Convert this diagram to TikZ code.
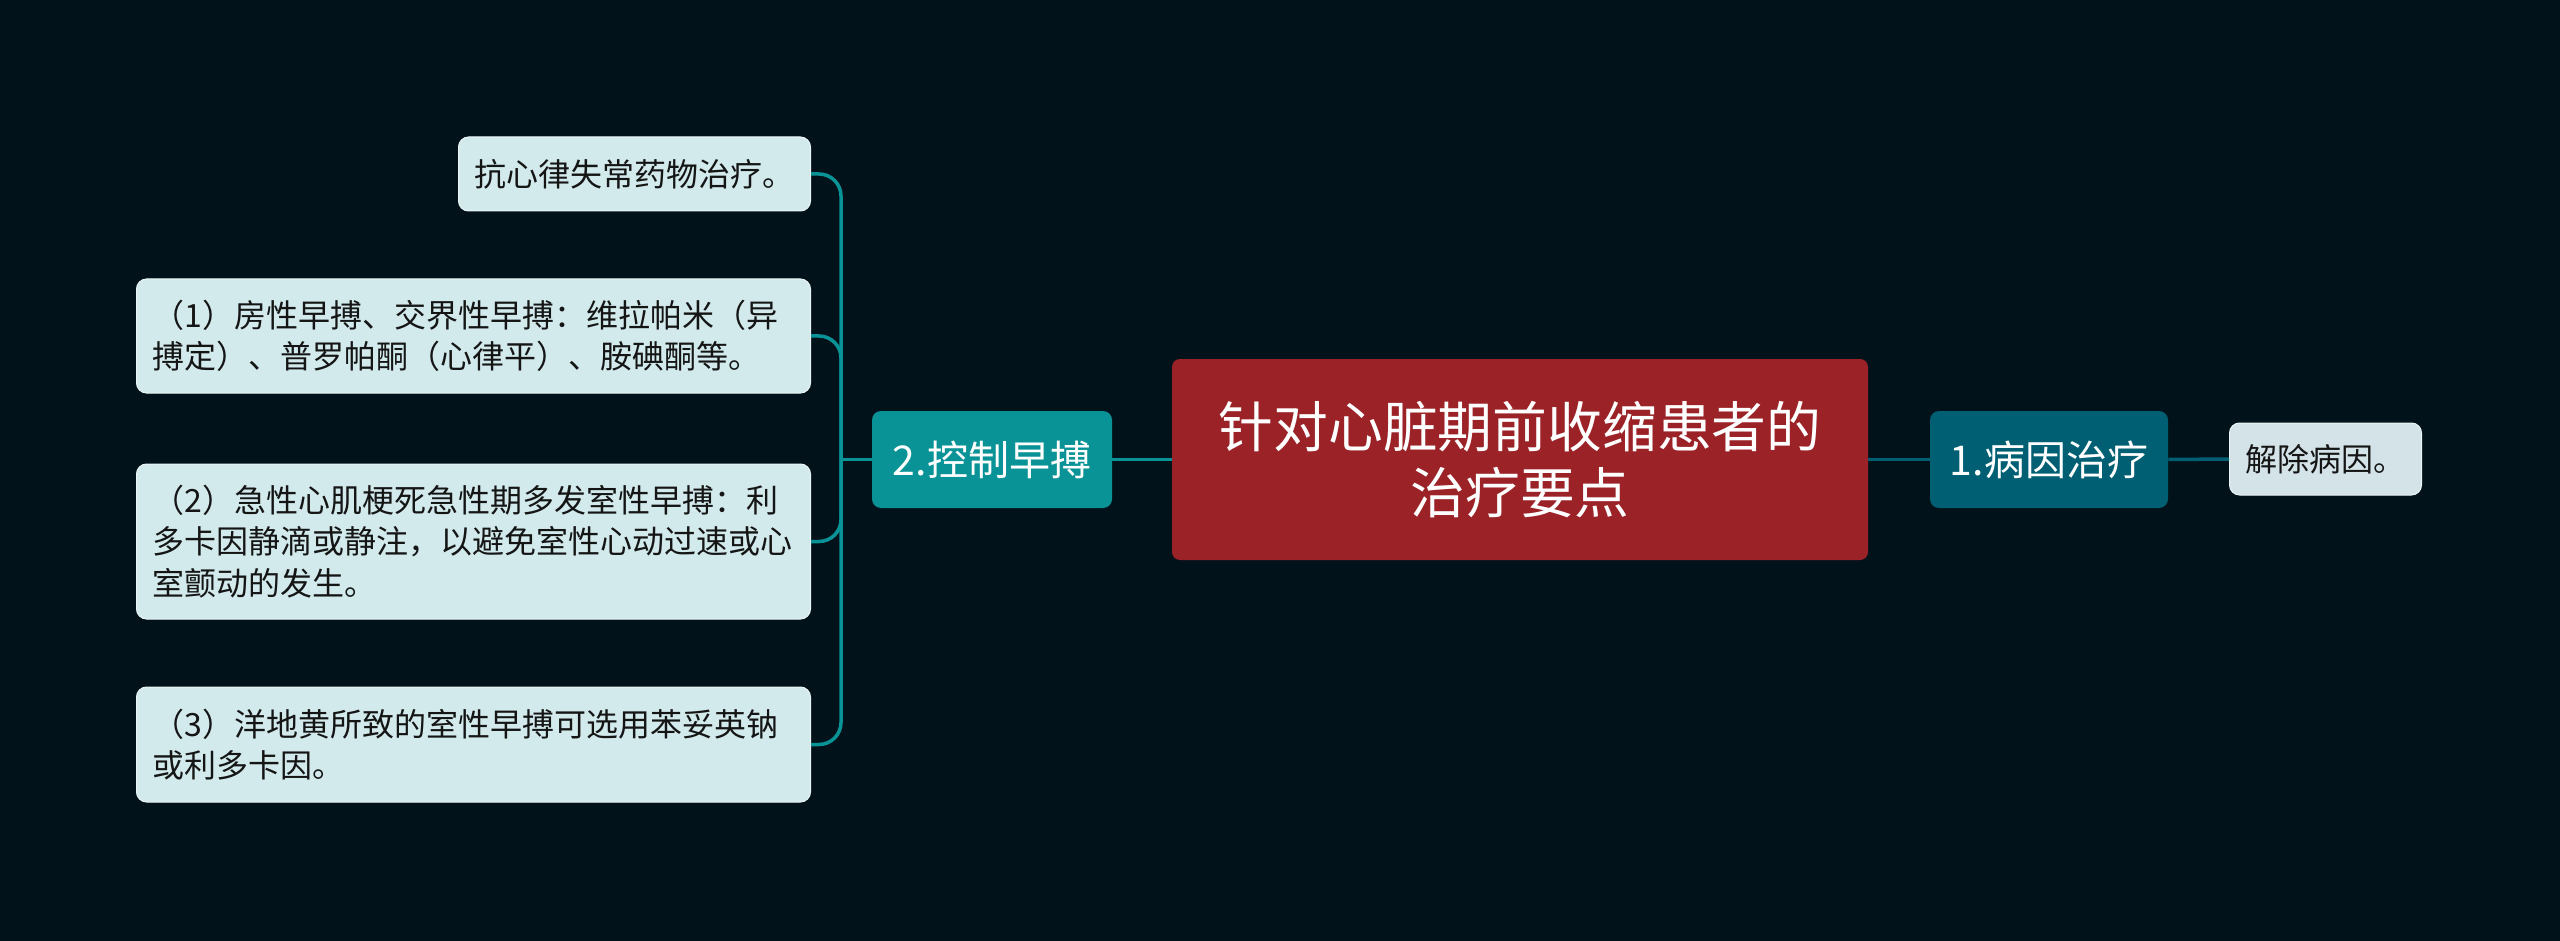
\documentclass[tikz,border=0pt]{standalone}
\usepackage{fontspec}
\setmainfont{Noto Sans CJK SC}
\definecolor{bg}{HTML}{02121A}
\definecolor{rootred}{HTML}{9B2226}
\definecolor{tealA}{HTML}{0A9396}
\definecolor{tealB}{HTML}{005F73}
\definecolor{leafL}{HTML}{D2EAEC}
\definecolor{leafR}{HTML}{D3E3E7}
\definecolor{leafline}{HTML}{EAF5F6}
\definecolor{leaftext}{HTML}{151515}
\begin{document}
\begin{tikzpicture}[x=1pt,y=1pt,
  rootbox/.style={fill=rootred, rounded corners=4pt, text=white, align=center,
    minimum width=348pt, minimum height=100.5pt, inner sep=4pt,
    font=\fontsize{27.4pt}{32.6pt}\selectfont},
  branchbox/.style={rounded corners=4.5pt, text=white, align=center,
    minimum height=48.5pt, inner sep=4pt,
    font=\fontsize{20.5pt}{24pt}\selectfont},
  leafbox/.style={fill=leafL, draw=leafline, line width=0.5pt, rounded corners=5pt,
    text=leaftext, align=left, inner xsep=8pt, inner ysep=3pt,
    font=\fontsize{16pt}{20.8pt}\selectfont},
  wideleaf/.style={leafbox, text width=321pt, minimum width=337pt},
  connA/.style={draw=tealA, line width=1.75pt},
  connB/.style={draw=tealB, line width=1.75pt}
]
\fill[bg] (0,0) rectangle (1280,-470.5);
\useasboundingbox (0,0) rectangle (1280,-470.5);

\node[rootbox] (root) at (760,-229.75) {针对心脏期前收缩患者的\\治疗要点};
\node[branchbox, fill=tealA, minimum width=120pt] (b2) at (496,-229.75) {2.控制早搏};
\node[branchbox, fill=tealB, minimum width=119pt] (b1) at (1024.5,-229.75) {1.病因治疗};
\node[leafbox, fill=leafR, minimum width=95.5pt, minimum height=36pt] (r1) at (1162.75,-229.5) {解除病因。};

\node[leafbox, anchor=east, minimum width=176pt, minimum height=37pt] (l1) at (405.5,-87) {抗心律失常药物治疗。};
\node[wideleaf, anchor=east, minimum height=57pt] (l2) at (405.5,-168) {（1）房性早搏、交界性早搏：维拉帕米（异\\搏定）、普罗帕酮（心律平）、胺碘酮等。};
\node[wideleaf, anchor=east, minimum height=77.5pt] (l3) at (405.5,-270.75) {（2）急性心肌梗死急性期多发室性早搏：利\\多卡因静滴或静注，以避免室性心动过速或心\\室颤动的发生。};
\node[wideleaf, anchor=east, minimum height=57.5pt] (l4) at (405.5,-372.25) {（3）洋地黄所致的室性早搏可选用苯妥英钠\\或利多卡因。};

\coordinate (jL) at (420.5,-229.75);
\draw[connA] (b2.west) -- (jL);
\draw[connA, rounded corners=11pt] (l1.east) -| (jL);
\draw[connA, rounded corners=11pt] (l2.east) -| (jL);
\draw[connA, rounded corners=11pt] (l3.east) -| (jL);
\draw[connA, rounded corners=11pt] (l4.east) -| (jL);
\draw[connA] (b2.east) -- (root.west);
\draw[connB] (root.east) -- (b1.west);
\draw[connB] (b1.east) -- (r1.west);
\end{tikzpicture}
\end{document}
